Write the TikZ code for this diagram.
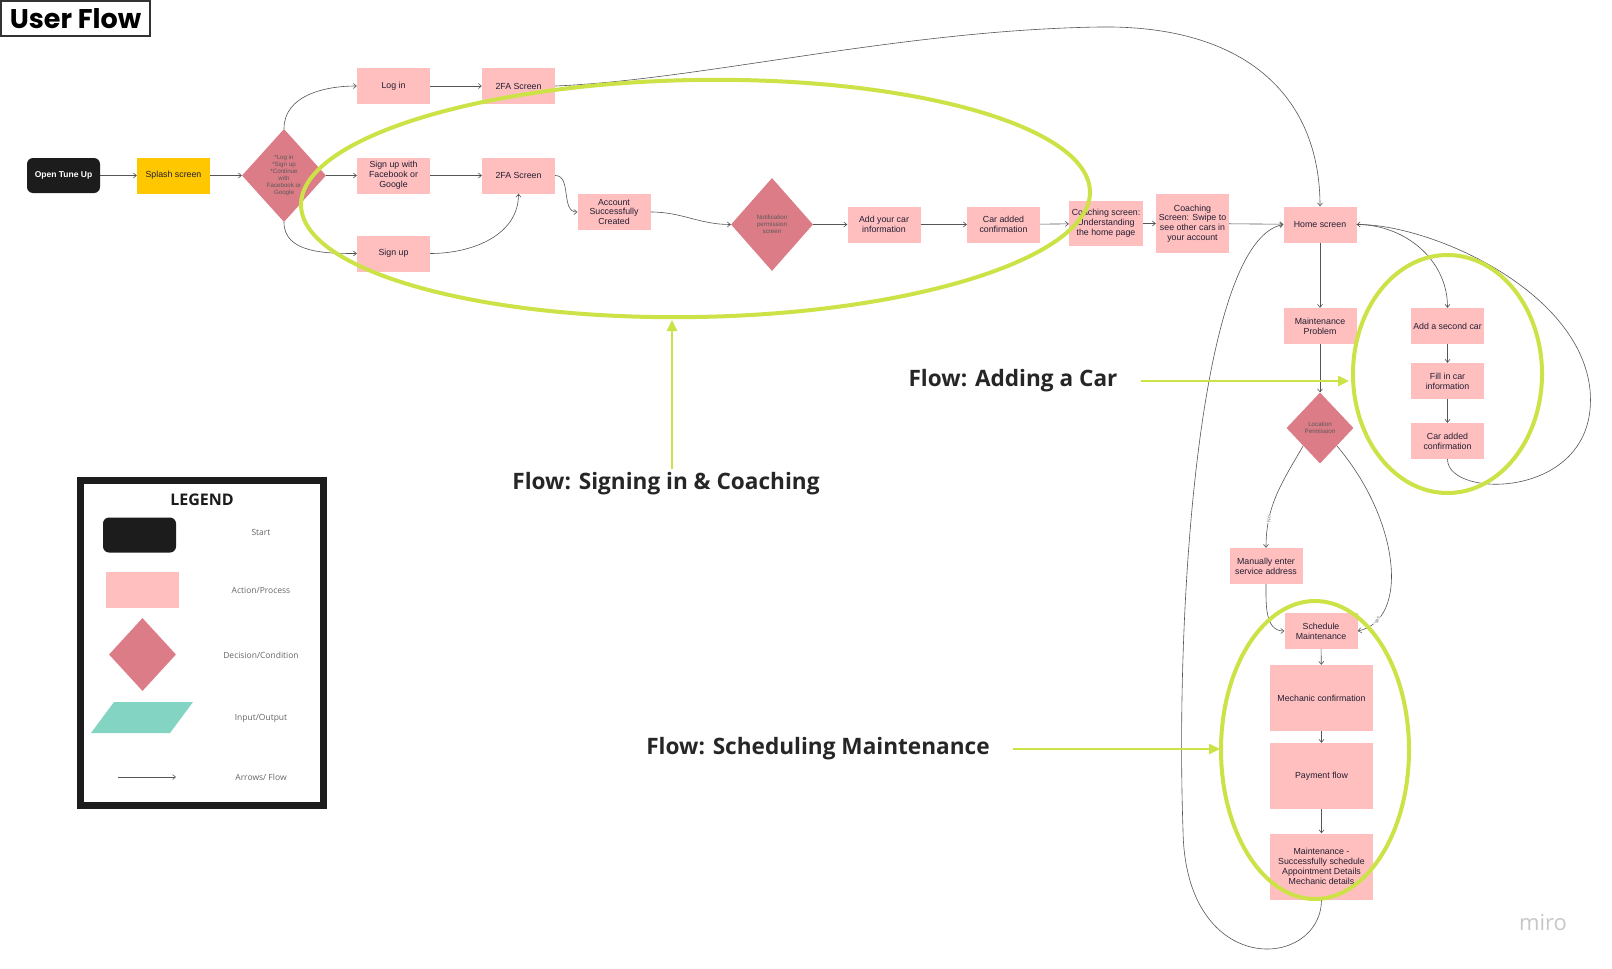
\documentclass[tikz,border=0pt]{standalone}
\usepackage{fontspec}
\setmainfont{Liberation Sans}
\newfontfamily\flowfont{Open Sans}
\newfontfamily\titlefont{Poppins}
\usetikzlibrary{shapes.geometric,arrows.meta}

\definecolor{boxpink}{RGB}{255,191,191}
\definecolor{decpink}{RGB}{220,124,135}
\definecolor{splashyellow}{RGB}{255,199,0}
\definecolor{startblack}{RGB}{28,28,28}
\definecolor{ioteal}{RGB}{132,212,196}
\definecolor{flowgreen}{RGB}{204,226,70}
\definecolor{linegray}{RGB}{85,85,85}
\definecolor{boxtext}{RGB}{35,30,50}

\tikzset{
  proc/.style={fill=boxpink, minimum width=73pt, minimum height=36pt, inner sep=1pt,
    align=center, text=boxtext, font=\fontsize{8.8}{9.8}\selectfont},
  bigproc/.style={proc, minimum width=103pt, minimum height=66pt},
  decision/.style={diamond, fill=decpink, inner sep=0pt, align=center, text=black!65,
    font=\fontsize{6.2}{7}\selectfont},
  startbox/.style={fill=startblack, rounded corners=6pt, minimum width=73pt,
    minimum height=35pt, text=white, font=\bfseries\fontsize{8.5}{9}\selectfont},
  flow/.style={draw=linegray, line width=0.6pt, -{Straight Barb[length=3pt,width=5pt]}},
  bubble/.style={draw=flowgreen, line width=4pt},
  pointer/.style={draw=flowgreen, line width=2.5pt, -{Triangle[length=11pt,width=10pt]}},
  flowlabel/.style={font=\flowfont\bfseries\fontsize{22.6}{26}\selectfont, text=black!85},
  leglabel/.style={font=\flowfont\fontsize{8.5}{10}\selectfont, text=black!60},
  answer/.style={font=\fontsize{5}{6}\selectfont, text=black!55, fill=white, inner sep=0.5pt},
}

\begin{document}
\begin{tikzpicture}[x=1pt,y=-1pt]
    \fill[white] (0,0) rectangle (1612,969);
    \useasboundingbox (0,0) rectangle (1612,969);

    \node[draw=black!80, line width=1.2pt, minimum width=149pt, minimum height=35pt,
      font=\titlefont\bfseries\fontsize{27}{30}\selectfont] (title) at (75.5,18.5) {User Flow};

    % sign in and coaching
    \node[startbox] (open) at (63.5,175.5) {Open Tune Up};
    \node[proc, fill=splashyellow] (splash) at (173.5,175.5) {Splash screen};
    \node[decision, minimum width=84pt, minimum height=93pt] (entry) at (284,175.5)
      {*Log in\\*Sign up\\*Continue\\with\\Facebook or\\Google};
    \node[proc] (login) at (393.5,86) {Log in};
    \node[proc] (tfaone) at (518.5,86) {2FA Screen};
    \node[proc] (social) at (393.5,175.5) {Sign up with\\Facebook or\\Google};
    \node[proc] (tfatwo) at (518.5,175.5) {2FA Screen};
    \node[proc] (signup) at (393.5,253.5) {Sign up};
    \node[proc] (account) at (614,212) {Account\\Successfully\\Created};
    \node[decision, minimum width=82pt, minimum height=93pt] (notify) at (772,224.5)
      {Notification\\permission\\screen};
    \node[proc] (addcar) at (884,224.5) {Add your car\\information};
    \node[proc] (caradded) at (1003.5,224.5) {Car added\\confirmation};
    \node[proc, minimum width=74pt, minimum height=45pt] (coachone) at (1106,223.5)
      {Coaching screen:\\Understanding\\the home page};
    \node[proc, minimum height=59pt] (coachtwo) at (1192.5,223.5)
      {Coaching\\Screen: Swipe to\\see other cars in\\your account};
    \node[proc] (home) at (1320,224.5) {Home screen};

    % second car
    \node[proc] (secondcar) at (1447.5,326) {Add a second car};
    \node[proc] (fillin) at (1447.5,381) {Fill in car\\information};
    \node[proc] (caraddedtwo) at (1447.5,441) {Car added\\confirmation};

    % maintenance
    \node[proc] (problem) at (1320,326) {Maintenance\\Problem};
    \node[decision, minimum width=67pt, minimum height=71pt] (location) at (1320,428)
      {Location\\Permission};
    \node[proc] (manual) at (1266,566) {Manually enter\\service address};
    \node[proc] (schedule) at (1321,631) {Schedule\\Maintenance};
    \node[bigproc] (mechanic) at (1321.5,698) {Mechanic confirmation};
    \node[bigproc] (payment) at (1321.5,776) {Payment flow};
    \node[bigproc] (booked) at (1321.5,866.5)
      {Maintenance -\\Successfully schedule\\Appointment Details\\Mechanic details};

    \draw[flow] (open) -- (splash);
    \draw[flow] (splash) -- (entry);
    \draw[flow] (entry.north) to[out=90,in=180] (login.west);
    \draw[flow] (entry) -- (social);
    \draw[flow] (entry.south) to[out=-90,in=180] (signup.west);
    \draw[flow] (login) -- (tfaone);
    \draw[flow] (social) -- (tfatwo);
    \draw[flow] (signup.east) to[out=0,in=-90] (tfatwo.south);
    \draw[flow] (tfatwo.east) to[out=0,in=180] (account.west);
    \draw[flow] (account.east) to[out=0,in=180] (notify.west);
    \draw[flow] (notify) -- (addcar);
    \draw[flow] (addcar) -- (caradded);
    \draw[flow] (caradded) -- (coachone);
    \draw[flow] (coachone) -- (coachtwo);
    \draw[flow] (coachtwo) -- (home);
    \draw[flow] (tfaone.east) .. controls (700,80) and (900,30) .. (1100,27)
      .. controls (1250,25) and (1320,100) .. (home.north);
    \draw[flow] (home) -- (problem);
    \draw[flow] (problem) -- (location);
    \draw[flow] (home.east) to[out=0,in=90] (secondcar.north);
    \draw[flow] (secondcar) -- (fillin);
    \draw[flow] (fillin) -- (caraddedtwo);
    \draw[flow] (caraddedtwo.south) .. controls (1447,500) and (1600,500) .. (1590,390)
      .. controls (1580,290) and (1430,224) .. (home.east);
    \draw[flow] (location.south west) to[out=-120,in=90]
      node[answer, pos=0.75, rotate=90] {No} (manual.north);
    \draw[flow] (location.south east) .. controls (1400,520) and (1410,620) ..
      node[answer, pos=0.85, rotate=70] {Yes} (schedule.east);
    \draw[flow] (manual.south) to[out=-90,in=180] (schedule.west);
    \draw[flow] (schedule) -- (mechanic);
    \draw[flow] (mechanic) -- (payment);
    \draw[flow] (payment) -- (booked);
    \draw[flow] (booked.south) .. controls (1321,970) and (1185,980) .. (1183,830)
      .. controls (1175,600) and (1200,240) .. (home.west);

    % legend
    \draw[line width=7pt, draw=startblack] (80.5,480.5) rectangle (323.5,805.5);
    \node[font=\flowfont\bfseries\fontsize{16}{18}\selectfont, text=startblack] (legtitle) at (202,500) {LEGEND};
    \node[startbox] (legstart) at (139.5,535) {};
    \node[proc] (legproc) at (142.5,590) {};
    \node[decision, minimum width=67pt, minimum height=73pt] (legdec) at (142.5,654.5) {};
    \fill[ioteal] (91,733) -- (114,702) -- (193,702) -- (170,733) -- cycle;
    \coordinate (legfrom) at (118,777);
    \coordinate (legto) at (176,777);
    \draw[flow] (legfrom) -- (legto);
    \node[leglabel] (startlbl) at (261,532) {Start};
    \node[leglabel] (proclbl) at (261,590) {Action/Process};
    \node[leglabel] (declbl) at (261,655) {Decision/Condition};
    \node[leglabel] (iolbl) at (261,718) {Input/Output};
    \node[leglabel] (arrowlbl) at (261,777) {Arrows/ Flow};

    % flow groups
    \draw[bubble, rotate around={1:(695.5,198.5)}] (695.5,198.5) ellipse [x radius=394.5, y radius=118.5];
    \draw[bubble] (1447.5,374) ellipse [x radius=94.5, y radius=119];
    \draw[bubble] (1315,750) ellipse [x radius=94, y radius=149];

    \node[flowlabel] (flowsign) at (666,484) {Flow: Signing in \& Coaching};
    \node[flowlabel] (flowcar) at (1013,381) {Flow: Adding a Car};
    \node[flowlabel] (flowsched) at (818,749) {Flow: Scheduling Maintenance};
    \coordinate (signtip) at (672,320);
    \coordinate (cartip) at (1349,381);
    \coordinate (schedtip) at (1220,749);
    \draw[pointer] (flowsign.north -| signtip) -- (signtip);
    \draw[pointer] ([xshift=20pt]flowcar.east) -- (cartip);
    \draw[pointer] ([xshift=20pt]flowsched.east) -- (schedtip);

    \node[font=\flowfont\fontsize{22}{24}\selectfont, text=black!22] (miro) at (1543,923) {miro};
\end{tikzpicture}
\end{document}
